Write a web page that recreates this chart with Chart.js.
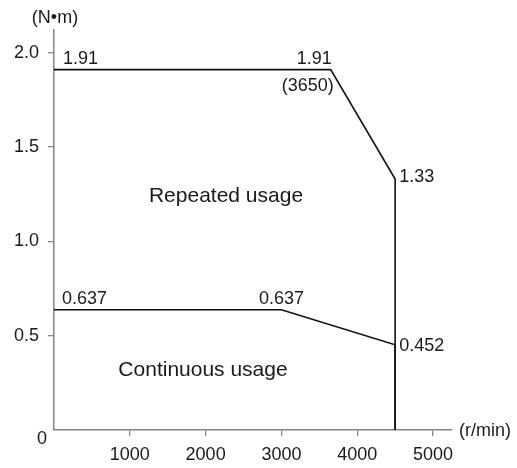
<!DOCTYPE html>
<html>
<head>
<meta charset="utf-8">
<script src="https://cdn.jsdelivr.net/npm/chart.js@4"></script>
<style>
  html, body { margin: 0; padding: 0; background: #fff; }
  #wrap { width: 517px; height: 468px; }
</style>
</head>
<body>
<div id="wrap"><canvas id="myChartTorque"></canvas></div>
<script>
// speed (r/min) / torque (N·m) corners of the two regions
const rpmRepeated = [0, 3650, 4500, 4500];
const torqueRepeated = [1.91, 1.91, 1.33, 0];
const rpmContinuous = [0, 3000, 4500, 4500];
const torqueContinuous = [0.637, 0.637, 0.452, 0];

const xTicks = [1000, 2000, 3000, 4000, 5000];
const yTicks = [0.5, 1.0, 1.5, 2.0];

const FONT = '"Liberation Sans", Arial, Helvetica, sans-serif';
const AXIS = '#858585';

const toPoints = (xs, ys) => xs.map((x, i) => ({ x: x, y: ys[i] }));

// value labels and region names
const labelsPlugin = {
  id: 'labels',
  afterDraw(chart) {
    const c = chart.ctx;
    const x = chart.scales.x, y = chart.scales.y;
    const px = v => x.getPixelForValue(v);
    const py = v => y.getPixelForValue(v);
    const txt = (s, X, Y, align, size) => {
      c.font = (size || 18) + 'px ' + FONT;
      c.textAlign = align;
      c.fillText(s, X, Y);
    };
    c.save();
    c.fillStyle = '#1a1a1a';
    c.textBaseline = 'middle';

    txt(String(torqueRepeated[0]), px(rpmRepeated[0]) + 9, py(torqueRepeated[0]) - 11, 'left');
    txt(String(torqueRepeated[1]), px(rpmRepeated[1]) + 1, py(torqueRepeated[1]) - 11, 'right');
    txt('(' + rpmRepeated[1] + ')', px(rpmRepeated[1]) + 3, py(torqueRepeated[1]) + 16, 'right');
    txt(String(torqueRepeated[2]), px(rpmRepeated[2]) + 4, py(torqueRepeated[2]) - 2, 'left');

    txt(String(torqueContinuous[0]), px(rpmContinuous[0]) + 8, py(torqueContinuous[0]) - 11, 'left');
    txt(String(torqueContinuous[1]), px(rpmContinuous[1]), py(torqueContinuous[1]) - 11, 'center');
    txt(String(torqueContinuous[2]), px(rpmContinuous[2]) + 4, py(torqueContinuous[2]) + 1, 'left');

    txt('Repeated usage', 226, 196, 'center', 21);
    txt('Continuous usage', 203, 370, 'center', 21);

    txt('0', 42, 439, 'center');
    txt('(N\u2022m)', 55, 18, 'center');
    txt('(r/min)', 459, 431, 'left');
    c.restore();
  }
};

new Chart(document.getElementById('myChartTorque'), {
  type: 'line',
  data: {
    datasets: [
      {
        label: 'Repeated usage',
        data: toPoints(rpmRepeated, torqueRepeated),
        borderColor: '#111',
        borderWidth: 1.6,
        pointRadius: 0,
        tension: 0,
        clip: false
      },
      {
        label: 'Continuous usage',
        data: toPoints(rpmContinuous, torqueContinuous),
        borderColor: '#111',
        borderWidth: 1.6,
        pointRadius: 0,
        tension: 0,
        clip: false
      }
    ]
  },
  options: {
    responsive: true,
    maintainAspectRatio: false,
    animation: false,
    layout: { padding: { top: 30, right: 65, left: 0, bottom: 0 } },
    plugins: {
      legend: { display: false },
      tooltip: { enabled: false }
    },
    scales: {
      x: {
        type: 'linear',
        min: 0,
        max: 5250,
        afterBuildTicks: axis => { axis.ticks = xTicks.map(v => ({ value: v })); },
        afterFit: s => { s.height = 38; },
        grid: { drawOnChartArea: false, drawTicks: true, tickLength: 6, color: AXIS, lineWidth: 1.3 },
        border: { color: AXIS, width: 1.5 },
        ticks: {
          autoSkip: false,
          maxRotation: 0,
          padding: 8,
          color: '#1a1a1a',
          font: { family: FONT, size: 18 },
          callback: v => String(v)
        }
      },
      y: {
        min: 0,
        max: 2.12,
        afterBuildTicks: axis => { axis.ticks = yTicks.map(v => ({ value: v })); },
        afterFit: s => { s.width = 54; },
        grid: { drawOnChartArea: false, drawTicks: true, tickLength: 6, color: AXIS, lineWidth: 1.3 },
        border: { color: AXIS, width: 1.5 },
        ticks: {
          padding: 9,
          color: '#1a1a1a',
          font: { family: FONT, size: 18 },
          callback: v => v.toFixed(1)
        }
      }
    }
  },
  plugins: [labelsPlugin]
});
</script>
</body>
</html>
